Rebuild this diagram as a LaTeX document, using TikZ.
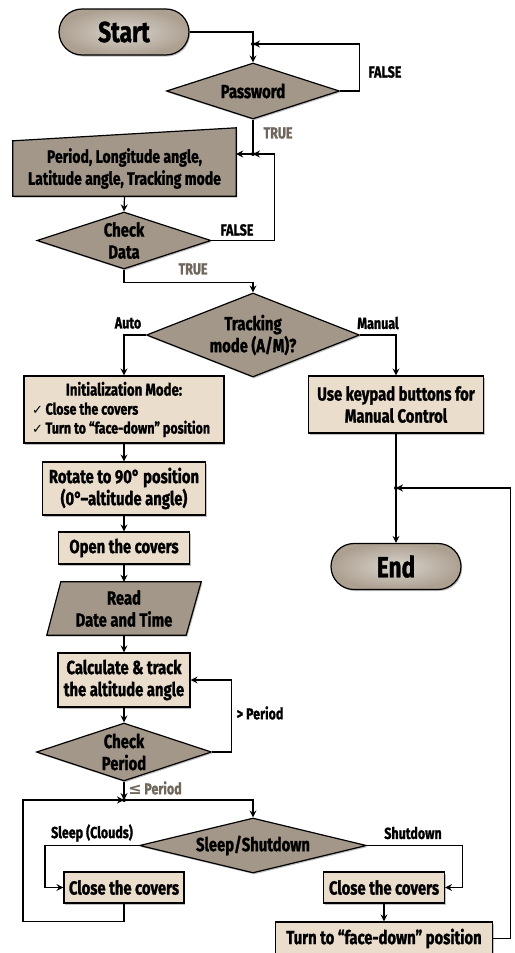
\documentclass[tikz,border=0pt]{standalone}
\usepackage{fontspec}
\setmainfont{Fira Sans}[FakeStretch=0.78, BoldFeatures={FakeBold=1.2}]
\newfontfamily\symfont{DejaVu Sans}
\usetikzlibrary{positioning,arrows.meta,shapes.geometric,shadows,backgrounds}

\definecolor{darkfill}{RGB}{163,151,137}
\definecolor{lightfill}{RGB}{235,221,203}
\definecolor{termfill}{RGB}{172,160,145}
\definecolor{lblgrey}{RGB}{112,102,92}

\begin{document}
\begin{tikzpicture}[x=1pt, y=-1pt,
  shd/.style={drop shadow={shadow xshift=1.2pt, shadow yshift=-1.5pt,
              opacity=.35, fill=black!70}},
  term/.style={rectangle, rounded corners=23pt, draw, line width=1.2pt,
               inner color=termfill!45!white, outer color=termfill, shd,
               minimum width=130pt, minimum height=46pt, inner sep=0pt,
               font=\fontsize{29}{31}\selectfont\bfseries},
  decis/.style={diamond, draw, line width=1.2pt, fill=darkfill, shd,
                inner sep=0pt, align=center,
                font=\fontsize{19}{22}\selectfont\bfseries},
  proc/.style={rectangle, draw, line width=1.2pt, fill=lightfill, shd,
               inner sep=0pt, align=center,
               font=\fontsize{19}{22}\selectfont\bfseries},
  iotext/.style={rectangle, inner sep=0pt, align=center,
                 font=\fontsize{18}{22}\selectfont\bfseries},
  iofill/.style={draw, line width=1.2pt, fill=darkfill, shd},
  conn/.style={line width=1.2pt, -{Stealth[length=7pt, width=7pt, inset=2.5pt]}},
  lbl/.style={font=\fontsize{16}{18}\selectfont\bfseries, inner sep=0pt},
  glbl/.style={lbl, text=lblgrey},
]
  \useasboundingbox (0,0) rectangle (514,953);

  % Junctions
  \coordinate (j1) at (253,44);
  \coordinate (j2) at (253,154);
  \coordinate (j3) at (124,800);
  \coordinate (j4) at (396,488);

  % Top part: login and data entry
  \node[term] (start) at (124,32) {Start};
  \node[decis, aspect=3.1, minimum width=173pt, minimum height=56pt] (pw)
    at (253,91) {Password};
  \node[iotext, minimum width=223pt, minimum height=55pt] (inp) at (124.5,168.5)
    {Period, Longitude angle,\\Latitude angle, Tracking mode};
  \node[decis, aspect=3.05, minimum width=174pt, minimum height=57pt] (chkd)
    at (124,240.5) {Check\\Data};
  \node[decis, aspect=2.54, minimum width=213pt, minimum height=84pt] (trk)
    at (253,335) {Tracking\\mode (A/M)?};

  % Auto branch
  \node[proc, minimum width=200pt, minimum height=67pt,
        font=\fontsize{16}{19}\selectfont\bfseries] (init) at (124,409.5)
    {\fontsize{17}{20}\selectfont Initialization Mode:\\
     \makebox[184pt][l]{{\symfont\fontsize{13}{15}\selectfont ✓}\,Close the covers}\\
     \makebox[184pt][l]{{\symfont\fontsize{13}{15}\selectfont ✓}\,Turn to “face-down” position}};
  \node[proc, minimum width=163pt, minimum height=53pt] (rot) at (124,488.5)
    {Rotate to 90° position\\(0°–altitude angle)};
  \node[proc, minimum width=131pt, minimum height=32pt] (opn) at (124,548)
    {Open the covers};
  \node[iotext, minimum width=140pt, minimum height=53pt,
        font=\fontsize{19}{22}\selectfont\bfseries] (rdt) at (124,608.5)
    {Read\\Date and Time};
  \node[proc, minimum width=132pt, minimum height=54pt] (calc) at (124,680)
    {Calculate \& track\\the altitude angle};
  \node[decis, aspect=3.0, minimum width=175pt, minimum height=58pt] (chkp)
    at (124,752) {Check\\Period};
  \node[decis, aspect=4.1, minimum width=227pt, minimum height=55pt] (slp)
    at (253,845.5) {Sleep/Shutdown};
  \node[proc, minimum width=120pt, minimum height=31pt] (clsl) at (124,887.5)
    {Close the covers};
  \node[proc, minimum width=121pt, minimum height=31pt] (clsr) at (384,887.5)
    {Close the covers};
  \node[proc, minimum width=217pt, minimum height=33pt] (turn) at (384,938.5)
    {Turn to “face-down” position};

  % Manual branch
  \node[proc, minimum width=175pt, minimum height=57pt] (keyp) at (396,404.5)
    {Use keypad buttons for\\Manual Control};
  \node[term] (fin) at (396,566.5) {End};

  % Slanted input shapes
  \begin{scope}[on background layer]
    \draw[iofill] (inp.south west) -- (inp.south east)
      -- ([yshift=13pt]inp.north east) -- (inp.north west) -- cycle;
    \draw[iofill] ([xshift=-7pt]rdt.south west) -- ([xshift=-8pt]rdt.south east)
      -- ([xshift=7pt]rdt.north east) -- ([xshift=7pt]rdt.north west) -- cycle;
  \end{scope}

  % Connectors
  \draw[conn] (start.east) -| (pw.north);
  \draw[conn] (pw.east) -- ++(19,0) |- (j1);
  \draw[conn] (pw.south) |- (j2 -| inp.east);
  \draw[conn] (inp.south) -- (chkd.north);
  \draw[conn] (chkd.east) -- ++(63,0) |- (j2);
  \draw[conn] (chkd.south) -- ++(0,13) -| (trk.north);
  \draw[conn] (trk.west) -| (init.north);
  \draw[conn] (trk.east) -| (keyp.north);
  \draw[conn] (init.south) -- (rot.north);
  \draw[conn] (rot.south) -- (opn.north);
  \draw[conn] (opn.south) -- (rdt.north);
  \draw[conn] (rdt.south) -- (calc.north);
  \draw[conn] (calc.south) -- (chkp.north);
  \draw[conn] (chkp.east) -- ++(19,0) |- (calc.east);
  \draw[conn] (chkp.south) -- (j3);
  \draw[conn] (j3) -| (slp.north);
  \draw[conn] (slp.west) -- ++(-94,0) |- (clsl.west);
  \draw[conn] (clsl.south) -- ++(0,18) -- ++(-101,0) |- (j3);
  \draw[conn] (slp.east) -- ++(95,0) |- (clsr.east);
  \draw[conn] (clsr.south) -- (turn.north);
  \draw[conn] (turn.east) -- ++(17,0) |- (j4);
  \draw[conn] (keyp.south) -- (fin.north);

  \foreach \j in {j1,j2,j3,j4}
    \fill (\j) circle (2pt);

  % Branch labels
  \node[lbl]  (lf1) at (385,72)  {FALSE};
  \node[glbl] (lt1) at (278,133) {TRUE};
  \node[lbl]  (lf2) at (237,230) {FALSE};
  \node[glbl] (lt2) at (193,269) {TRUE};
  \node[lbl]  (la)  at (128,323) {Auto};
  \node[lbl]  (lm)  at (378,323) {Manual};
  \node[lbl]  (lgt) at (260,713) {> Period};
  \node[glbl] (lle) at (155,788) {{\symfont ≤}\,Period};
  \node[lbl]  (lsc) at (92,833)  {Sleep (Clouds)};
  \node[lbl]  (lsd) at (413,833) {Shutdown};
\end{tikzpicture}
\end{document}
